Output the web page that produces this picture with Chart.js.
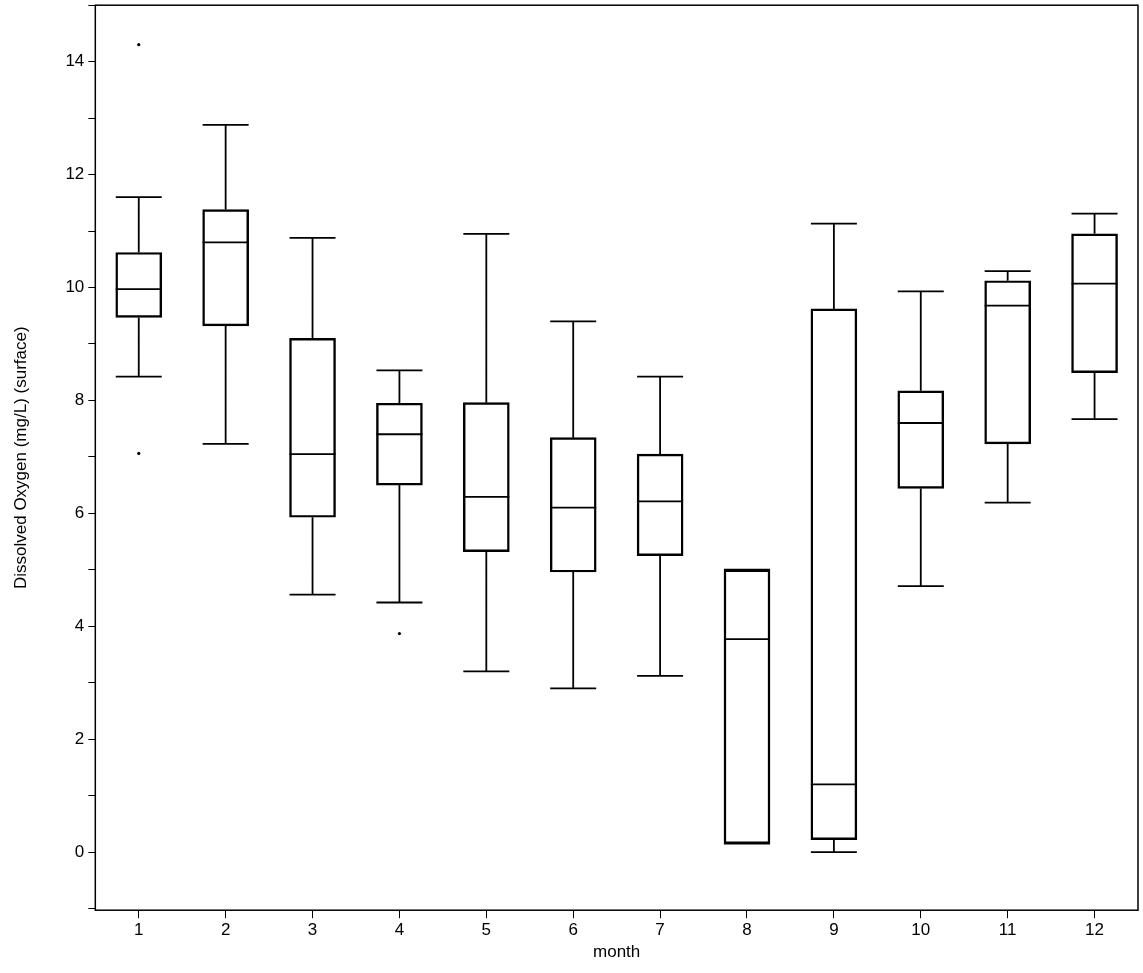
<!DOCTYPE html>
<html>
<head>
<meta charset="utf-8">
<script src="https://cdn.jsdelivr.net/npm/chart.js@4"></script>
<style>
  body { margin: 0; background: #fff; overflow: hidden; }
  #clip { width: 1143px; height: 973px; overflow: hidden; position: relative; }
  #wrap { width: 1143px; height: 982px; position: absolute; top: -9px; left: 0; }
</style>
</head>
<body>
<div id="clip"><div id="wrap"><canvas id="myChart"></canvas></div></div>
<script>
// month by month box plot values
const months = [1, 2, 3, 4, 5, 6, 7, 8, 9, 10, 11, 12]
const whiskerLow = [8.42, 7.23, 4.56, 4.42, 3.2, 2.9, 3.12, 0.15, 0, 4.71, 6.19, 7.67]
const q1 = [9.47, 9.32, 5.93, 6.5, 5.32, 4.96, 5.25, 0.15, 0.22, 6.44, 7.23, 8.49]
const median = [9.97, 10.8, 7.05, 7.4, 6.29, 6.1, 6.21, 3.77, 1.2, 7.6, 9.68, 10.07]
const q3 = [10.62, 11.38, 9.1, 7.95, 7.96, 7.34, 7.05, 5.0, 9.62, 8.17, 10.12, 10.95]
const whiskerHigh = [11.6, 12.88, 10.88, 8.53, 10.95, 9.4, 8.42, 5.0, 11.13, 9.93, 10.29, 11.31]
const outlierMonth = [1, 1, 4]
const outlierValue = [14.3, 7.06, 3.87]

const boxWidth = 46

// whiskers, caps, medians and frame drawn through the chart scales
const boxExtras = {
  id: 'boxExtras',
  afterDatasetsDraw(chart) {
    const ctx = chart.ctx
    const xs = chart.scales.x, ys = chart.scales.y
    ctx.save()
    ctx.strokeStyle = '#000'
    ctx.lineWidth = 1.8
    ctx.beginPath()
    months.forEach((m, i) => {
      const px = xs.getPixelForValue(m)
      const half = boxWidth / 2
      ctx.moveTo(px, ys.getPixelForValue(q3[i]))
      ctx.lineTo(px, ys.getPixelForValue(whiskerHigh[i]))
      ctx.moveTo(px, ys.getPixelForValue(q1[i]))
      ctx.lineTo(px, ys.getPixelForValue(whiskerLow[i]))
      for (const v of [whiskerHigh[i], whiskerLow[i], median[i]]) {
        const py = ys.getPixelForValue(v)
        ctx.moveTo(px - half, py)
        ctx.lineTo(px + half, py)
      }
    })
    ctx.stroke()
    const a = chart.chartArea
    ctx.lineWidth = 1.5
    ctx.strokeRect(a.left, a.top, a.right - a.left, a.bottom - a.top)
    ctx.restore()
  }
}

const ctx = document.getElementById('myChart').getContext('2d')

new Chart(ctx, {
  type: 'bar',
  data: {
    datasets: [
      {
        type: 'bar',
        data: months.map((m, i) => ({ x: m, y: [q1[i], q3[i]] })),
        backgroundColor: 'rgba(0,0,0,0)',
        borderColor: '#000',
        borderWidth: 1.8,
        borderSkipped: false,
        barThickness: boxWidth
      },
      {
        type: 'scatter',
        data: outlierMonth.map((m, i) => ({ x: m, y: outlierValue[i] })),
        pointRadius: 1.6,
        pointBackgroundColor: '#000',
        pointBorderWidth: 0
      }
    ]
  },
  options: {
    responsive: true,
    maintainAspectRatio: false,
    animation: false,
    layout: { padding: { top: 0, right: 5, left: 11, bottom: 10 } },
    plugins: { legend: { display: false }, tooltip: { enabled: false } },
    scales: {
      x: {
        type: 'linear',
        min: 0.5,
        max: 12.5,
        offset: false,
        afterBuildTicks: s => { s.ticks = months.map(v => ({ value: v })) },
        grid: { drawOnChartArea: false, offset: false, tickLength: 8, color: '#000', lineWidth: 1 },
        border: { display: false },
        ticks: { color: '#000', font: { family: 'Liberation Sans', size: 17 }, padding: 2 },
        title: { display: true, text: 'month', color: '#000', font: { family: 'Liberation Sans', size: 17 }, padding: 0 }
      },
      y: {
        min: -1.03,
        max: 15,
        afterBuildTicks: s => {
          const t = []
          for (let v = -1; v <= 15; v++) t.push({ value: v })
          s.ticks = t
        },
        grid: { drawOnChartArea: false, tickLength: 7, color: '#000', lineWidth: 1 },
        border: { display: false },
        ticks: {
          color: '#000',
          font: { family: 'Liberation Sans', size: 17 },
          padding: 4,
          autoSkip: false,
          callback: v => (v % 2 === 0 ? String(v) : '')
        },
        title: { display: true, text: 'Dissolved Oxygen (mg/L) (surface)', color: '#000', font: { family: 'Liberation Sans', size: 17 }, padding: { top: 0, bottom: 30 } }
      }
    }
  },
  plugins: [boxExtras]
})
</script>
</body>
</html>
